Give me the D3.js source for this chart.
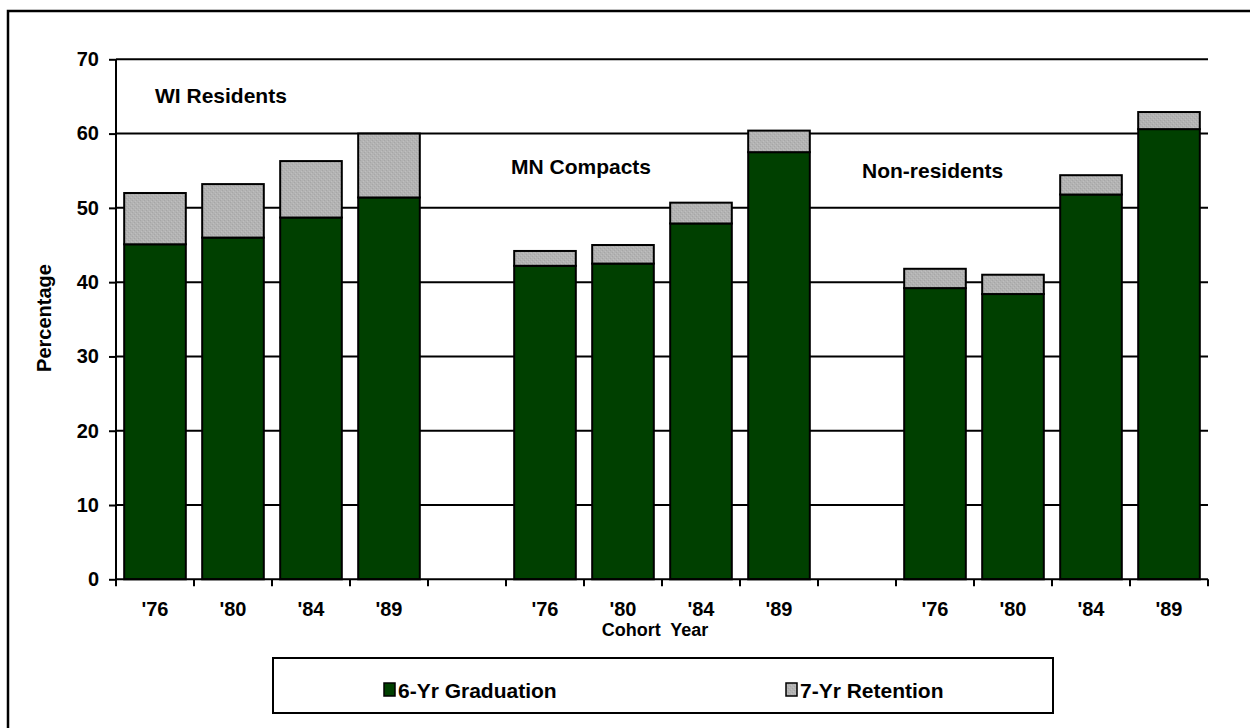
<!DOCTYPE html>
<html>
<head>
<meta charset="utf-8">
<script src="https://cdn.jsdelivr.net/npm/d3@7"></script>
<style>
  html, body { margin: 0; padding: 0; background: #fff; }
  svg { display: block; }
  text { font-family: "Liberation Sans", Arial, sans-serif; font-weight: bold; fill: #000; }
</style>
</head>
<body>
<svg id="chart" width="1250" height="728"></svg>
<script>
// ---- data ----
const groups = ["WI Residents", "MN Compacts", "Non-residents"];
const years = ["'76", "'80", "'84", "'89"];
const graduation = [
  [45.1, 46.0, 48.7, 51.4],
  [42.2, 42.5, 47.9, 57.5],
  [39.2, 38.4, 51.8, 60.6]
];
const retention = [
  [6.9, 7.2, 7.6, 8.6],
  [2.0, 2.5, 2.8, 2.9],
  [2.6, 2.6, 2.6, 2.3]
];
const yTicks = [0, 10, 20, 30, 40, 50, 60, 70];
const seriesNames = ["6-Yr Graduation", "7-Yr Retention"];
const yTitle = "Percentage";
const xTitle = "Cohort  Year";

(function () {
// ---- build slots (4 bars per group, blank slot between groups) ----
const slots = [];
const bars = [];
groups.forEach((g, gi) => {
  years.forEach((yr, yi) => {
    const key = g + "|" + yr;
    slots.push(key);
    bars.push({ key, group: g, year: yr, grad: graduation[gi][yi], ret: retention[gi][yi] });
  });
  if (gi < groups.length - 1) slots.push("gap" + gi);
});

const svg = d3.select("#chart");
const pLeft = 116, pRight = 1208, pTop = 59.3, pBottom = 579.3;

// pattern for the gray retention segments
const defs = svg.append("defs");
const pat = defs.append("pattern").attr("id", "gray").attr("patternUnits", "userSpaceOnUse")
  .attr("width", 4).attr("height", 4);
pat.append("rect").attr("width", 4).attr("height", 4).attr("fill", "#b3b3b3");
pat.append("rect").attr("x", 0).attr("y", 0).attr("width", 1).attr("height", 1).attr("fill", "#a6a6a6");
pat.append("rect").attr("x", 2).attr("y", 2).attr("width", 1).attr("height", 1).attr("fill", "#a6a6a6");
pat.append("rect").attr("x", 1).attr("y", 3).attr("width", 1).attr("height", 1).attr("fill", "#bfbfbf");
pat.append("rect").attr("x", 3).attr("y", 1).attr("width", 1).attr("height", 1).attr("fill", "#bfbfbf");

// outer frame
svg.append("rect").attr("x", 8).attr("y", 11).attr("width", 1260).attr("height", 760)
  .attr("fill", "none").attr("stroke", "#000").attr("stroke-width", 2.5);

const x = d3.scaleBand().domain(slots).range([pLeft, pRight]).paddingInner(0.21).paddingOuter(0.105);
const xOuter = d3.scaleBand().domain(slots).range([pLeft, pRight]).padding(0);
const y = d3.scaleLinear().domain([0, 70]).range([pBottom, pTop]);

// gridlines
svg.append("g").selectAll("line").data(yTicks.filter(t => t > 0)).join("line")
  .attr("x1", pLeft).attr("x2", pRight)
  .attr("y1", d => y(d)).attr("y2", d => y(d))
  .attr("stroke", "#000").attr("stroke-width", 2);

// bars
const barG = svg.append("g");
barG.selectAll("rect.grad").data(bars).join("rect").attr("class", "grad")
  .attr("x", d => x(d.key)).attr("width", x.bandwidth())
  .attr("y", d => y(d.grad)).attr("height", d => y(0) - y(d.grad))
  .attr("fill", "#004000").attr("stroke", "#000").attr("stroke-width", 2);
barG.selectAll("rect.ret").data(bars).join("rect").attr("class", "ret")
  .attr("x", d => x(d.key)).attr("width", x.bandwidth())
  .attr("y", d => y(d.grad + d.ret)).attr("height", d => y(d.grad) - y(d.grad + d.ret))
  .attr("fill", "url(#gray)").attr("stroke", "#000").attr("stroke-width", 2);

// y axis
const yAxis = svg.append("g").attr("transform", `translate(${pLeft},0)`)
  .call(d3.axisLeft(y).tickValues(yTicks).tickSize(7).tickPadding(10).tickFormat(d3.format("d")));
yAxis.select(".domain").attr("stroke", "#000").attr("stroke-width", 2).attr("d", `M0,${pTop}V${pBottom}`);
yAxis.selectAll(".tick line").attr("stroke", "#000").attr("stroke-width", 2);
yAxis.selectAll(".tick text").style("font-size", "20px").style("font-family", "'Liberation Sans', Arial, sans-serif")
  .style("font-weight", "bold").attr("fill", "#000");

// x axis: ticks at slot boundaries, labels at bar centres
const boundaries = slots.map(s => xOuter(s)).concat([pRight]);
const xg = svg.append("g");
xg.append("line").attr("x1", pLeft).attr("x2", pRight).attr("y1", pBottom).attr("y2", pBottom)
  .attr("stroke", "#000").attr("stroke-width", 2);
xg.selectAll("line.tk").data(boundaries).join("line").attr("class", "tk")
  .attr("x1", d => d).attr("x2", d => d).attr("y1", pBottom).attr("y2", pBottom + 7)
  .attr("stroke", "#000").attr("stroke-width", 2);
xg.selectAll("text").data(bars).join("text")
  .attr("x", d => x(d.key) + x.bandwidth() / 2).attr("y", 616)
  .attr("text-anchor", "middle").style("font-size", "20px").text(d => d.year);

// group labels
const groupLabelPos = [[155, 103], [511, 174], [862, 178]];
svg.append("g").selectAll("text").data(groups).join("text")
  .attr("x", (d, i) => groupLabelPos[i][0]).attr("y", (d, i) => groupLabelPos[i][1])
  .style("font-size", "21px").text(d => d);

// axis titles
svg.append("text").attr("transform", "translate(51,318) rotate(-90)").attr("text-anchor", "middle")
  .style("font-size", "20px").text(yTitle);
svg.append("text").attr("x", 655).attr("y", 636).attr("text-anchor", "middle")
  .style("font-size", "18px").style("white-space", "pre").attr("xml:space", "preserve").text(xTitle);

// legend
const lg = svg.append("g");
lg.append("rect").attr("x", 273).attr("y", 658).attr("width", 780).attr("height", 55)
  .attr("fill", "#fff").attr("stroke", "#000").attr("stroke-width", 2);
const legendItems = [
  { name: seriesNames[0], fill: "#004000", x: 384 },
  { name: seriesNames[1], fill: "url(#gray)", x: 786 }
];
legendItems.forEach(it => {
  lg.append("rect").attr("x", it.x).attr("y", 683).attr("width", 11).attr("height", 13)
    .attr("fill", it.fill).attr("stroke", "#000").attr("stroke-width", 1.5);
  lg.append("text").attr("x", it.x + 14).attr("y", 698).style("font-size", "21px").text(it.name);
});
})();
</script>
</body>
</html>
